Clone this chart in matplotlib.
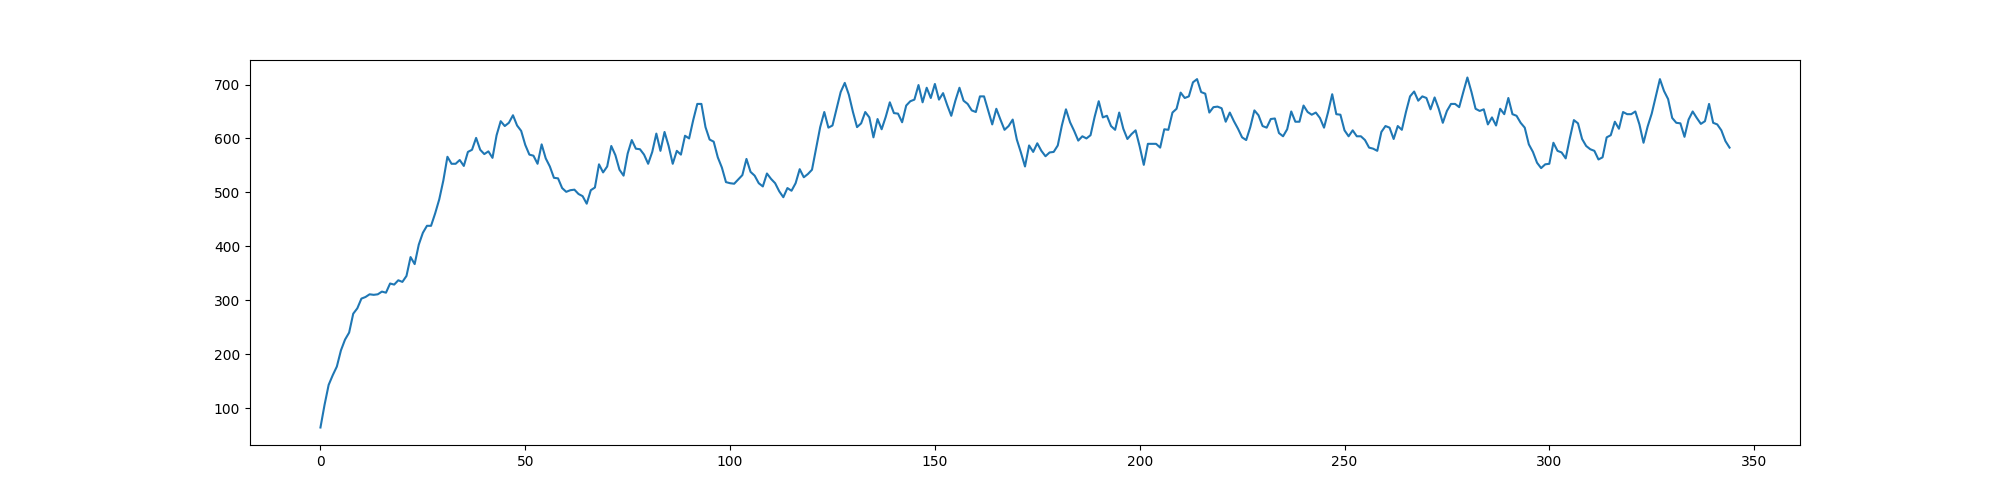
import matplotlib
matplotlib.use('Agg')
import matplotlib.pyplot as plt

# values, one per step (0..344)
values = [
    64, 106, 143, 161, 177, 207, 227, 240, 275, 285,
    303, 306, 311, 310, 311, 316, 314, 331, 329, 337,
    334, 345, 380, 367, 403, 425, 438, 438, 461, 487,
    522, 566, 553, 553, 560, 549, 575, 579, 601, 579,
    571, 576, 564, 606, 632, 623, 629, 643, 624, 614,
    588, 570, 568, 553, 589, 563, 548, 527, 526, 508,
    501, 504, 505, 497, 493, 479, 504, 509, 552, 537,
    548, 586, 569, 542, 531, 572, 597, 581, 580, 570,
    553, 575, 609, 577, 612, 586, 553, 577, 570, 605,
    600, 634, 664, 664, 621, 598, 594, 565, 546, 519,
    517, 516, 524, 532, 562, 538, 531, 517, 511, 535,
    525, 517, 502, 491, 508, 503, 517, 543, 528, 534,
    542, 582, 621, 649, 620, 624, 655, 686, 703, 681,
    649, 621, 628, 649, 639, 602, 636, 617, 640, 667,
    647, 646, 630, 661, 669, 672, 699, 667, 694, 675,
    701, 672, 684, 662, 642, 670, 694, 670, 664, 652,
    649, 678, 678, 652, 626, 655, 635, 616, 623, 635,
    598, 574, 548, 587, 575, 591, 577, 567, 574, 575,
    587, 624, 654, 630, 614, 596, 604, 600, 606, 640,
    669, 639, 642, 623, 616, 648, 618, 599, 608, 615,
    585, 551, 590, 590, 590, 583, 617, 616, 648, 655,
    685, 675, 678, 704, 710, 686, 683, 648, 658, 659,
    656, 631, 648, 632, 618, 602, 597, 621, 652, 643,
    623, 620, 636, 637, 610, 604, 617, 650, 631, 631,
    661, 649, 644, 648, 638, 620, 649, 682, 645, 644,
    615, 604, 615, 604, 604, 597, 583, 581, 577, 612,
    623, 620, 599, 623, 616, 649, 678, 687, 670, 678,
    675, 654, 676, 655, 629, 651, 664, 664, 658, 686,
    713, 686, 655, 651, 654, 626, 639, 624, 655, 645,
    675, 645, 642, 629, 620, 589, 575, 555, 545, 552,
    553, 592, 577, 574, 563, 600, 634, 628, 599, 586,
    580, 577, 561, 565, 602, 606, 631, 618, 649, 645,
    645, 650, 626, 592, 622, 646, 678, 710, 688, 673,
    638, 629, 628, 603, 635, 650, 638, 627, 632, 664,
    629, 626, 615, 595, 583,
]

fig = plt.figure(figsize=(20, 5), dpi=100)
plt.plot(values)
plt.savefig('out.png')
